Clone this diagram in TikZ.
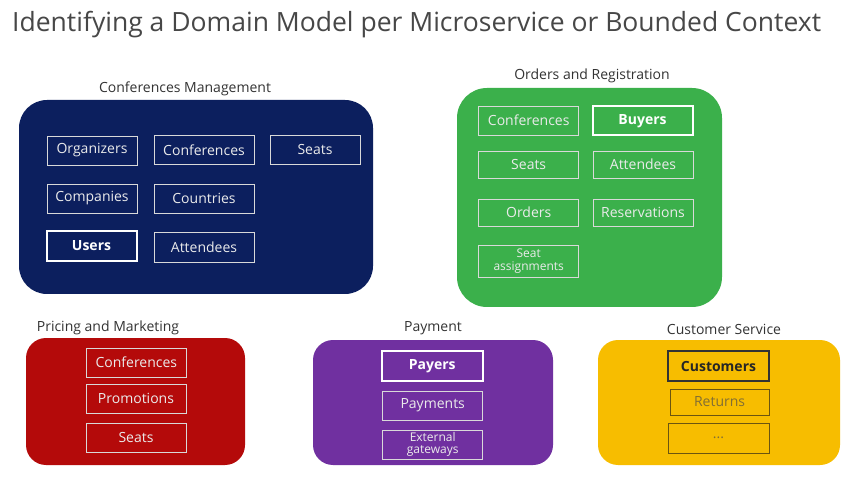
\documentclass[tikz,border=0pt]{standalone}
\usepackage{fontspec}
\setmainfont{Open Sans}
\definecolor{navyc}{HTML}{0C1F5E}
\definecolor{greenc}{HTML}{3BB04B}
\definecolor{redc}{HTML}{B40A0A}
\definecolor{purplec}{HTML}{7030A0}
\definecolor{yellowc}{HTML}{F7BD00}
\definecolor{labelc}{HTML}{333333}
\definecolor{ylinec}{HTML}{6B5510}
\begin{document}
\begin{tikzpicture}[x=1pt,y=-1pt,
  outer/.style={draw=none, rounded corners=26pt, minimum width=#1, inner sep=0pt},
  lbl/.style={text=labelc, font=\fontsize{14}{16}\selectfont, inner sep=0pt},
  ib/.style={draw=white!85!black, line width=0.8pt, text=white!92!black, inner sep=0pt,
     font=\fontsize{14}{16}\selectfont, align=center},
  ibk/.style={draw=white, line width=2pt, text=white, inner sep=0pt,
     font=\bfseries\fontsize{14}{16}\selectfont, align=center},
  yb/.style={draw=ylinec, line width=0.8pt, text=ylinec!85!white, inner sep=0pt,
     font=\fontsize{14}{16}\selectfont, align=center},
  ybk/.style={draw=black!80, line width=2pt, text=black!85, inner sep=0pt,
     font=\bfseries\fontsize{14}{16}\selectfont, align=center},
  sm/.style={font=\fontsize{12}{12.5}\selectfont}
]
\useasboundingbox (0,0) rectangle (854,478);
\fill[white] (0,0) rectangle (854,478);

\node[anchor=west, text=labelc!90!white, font=\fontsize{26.5}{30}\selectfont, inner sep=0pt] (title) at (12,25) {Identifying a Domain Model per Microservice or Bounded Context};

% Conferences Management
\node[outer=354pt, fill=navyc, minimum height=194pt, rounded corners=28pt] (cm) at (196,197) {};
\node[lbl] (cmL) at (185,89) {Conferences Management};
\node[ib, minimum width=90pt, minimum height=29pt] (org) at (92,150.5) {Organizers};
\node[ib, minimum width=100pt, minimum height=29pt] (conf) at (204,150) {Conferences};
\node[ib, minimum width=90pt, minimum height=29pt] (seats) at (315,150) {Seats};
\node[ib, minimum width=90pt, minimum height=29pt] (comp) at (92,198.5) {Companies};
\node[ib, minimum width=100pt, minimum height=29pt] (ctry) at (204,198.5) {Countries};
\node[ibk, minimum width=90pt, minimum height=30pt] (users) at (91.5,246) {Users};
\node[ib, minimum width=100pt, minimum height=30pt] (att) at (204,247) {Attendees};

% Orders and Registration
\node[outer=265pt, fill=greenc, minimum height=219pt, rounded corners=30pt] (or) at (589.5,197.5) {};
\node[lbl] (orL) at (592,76) {Orders and Registration};
\node[ib, minimum width=100pt, minimum height=29pt] (oconf) at (528.7,120.5) {Conferences};
\node[ibk, minimum width=100pt, minimum height=29pt] (buy) at (642.5,121) {Buyers};
\node[ib, minimum width=100pt, minimum height=27pt] (oseat) at (528.7,164.5) {Seats};
\node[ib, minimum width=100pt, minimum height=27pt] (oatt) at (643,164.5) {Attendees};
\node[ib, minimum width=100pt, minimum height=27pt] (ord) at (528.7,212.5) {Orders};
\node[ib, minimum width=100pt, minimum height=27pt] (res) at (643,212.5) {Reservations};
\node[ib, sm, minimum width=100pt, minimum height=32pt] (sa) at (528.7,261) {Seat\\assignments};

% Pricing and Marketing
\node[outer=219pt, fill=redc, minimum height=127pt, rounded corners=20pt] (pm) at (135.5,401.5) {};
\node[lbl] (pmL) at (108,328) {Pricing and Marketing};
\node[ib, minimum width=100pt, minimum height=29pt] (pconf) at (136.3,362.5) {Conferences};
\node[ib, minimum width=100pt, minimum height=29pt] (prom) at (136,398.5) {Promotions};
\node[ib, minimum width=100pt, minimum height=29pt] (pseat) at (136,437.5) {Seats};

% Payment
\node[outer=240pt, fill=purplec, minimum height=125pt, rounded corners=20pt] (pay) at (433,402.5) {};
\node[lbl] (payL) at (433,328) {Payment};
\node[ibk, minimum width=101pt, minimum height=30pt] (payers) at (432.3,366) {Payers};
\node[ib, minimum width=100pt, minimum height=29pt] (pays) at (432.7,405.5) {Payments};
\node[ib, sm, minimum width=100pt, minimum height=29pt] (ext) at (432.7,444.5) {External\\gateways};

% Customer Service
\node[outer=242pt, fill=yellowc, minimum height=125pt, rounded corners=20pt] (cs) at (719,402.5) {};
\node[lbl] (csL) at (724,329) {Customer Service};
\node[ybk, minimum width=101pt, minimum height=30pt] (cust) at (718.5,366) {Customers};
\node[yb, minimum width=99pt, minimum height=26pt] (ret) at (719.6,402) {Returns};
\node[yb, minimum width=101pt, minimum height=30pt] (dots) at (718.5,438) {...};
\end{tikzpicture}
\end{document}
